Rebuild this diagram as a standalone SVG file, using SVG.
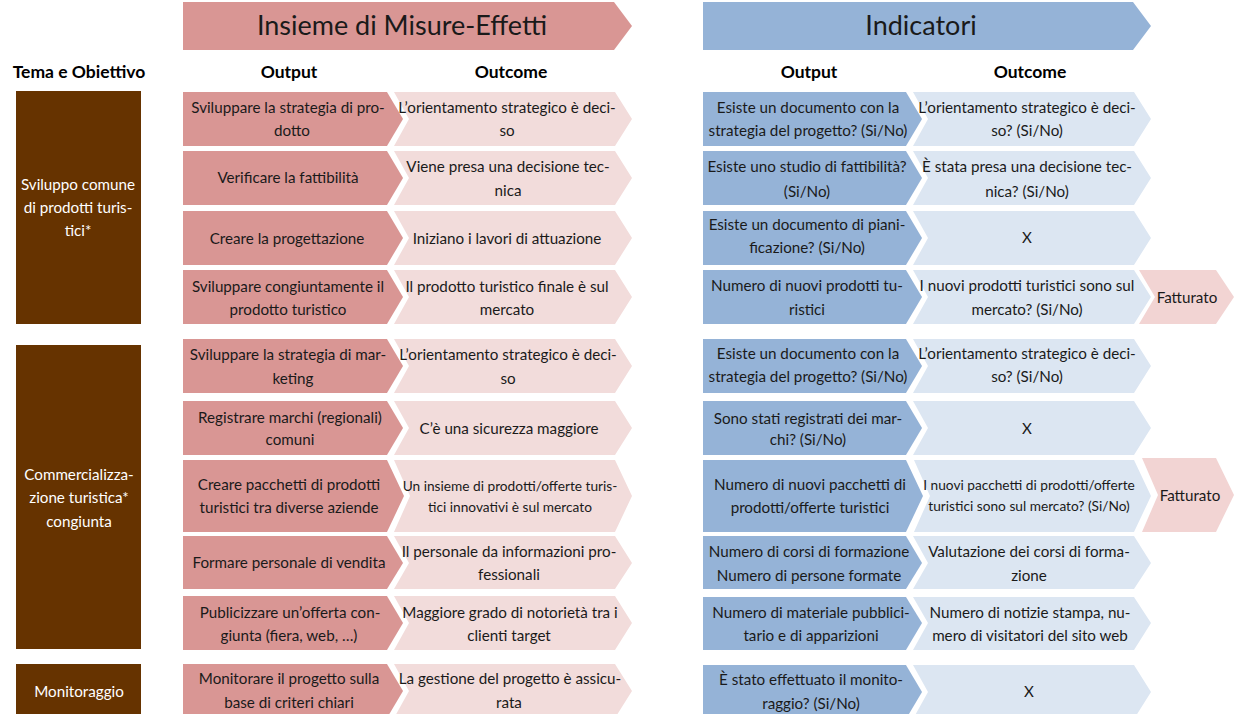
<svg xmlns="http://www.w3.org/2000/svg" width="1234" height="714" viewBox="0 0 1234 714">
  <style>
    text { font-family: Lato, "Liberation Sans", sans-serif; font-size: 15.2px; fill: #1a1a1a; text-anchor: middle; }
    .title { font-size: 27px; }
    .colhead { font-size: 17.5px; font-weight: bold; fill: #000; }
    .theme text { fill: #ffffff; }
    .sm { font-size: 13.7px; }
    .theme rect { fill: #663300; }
    .p-out { fill: #D99694; }
    .p-res { fill: #F2DCDB; }
    .b-out { fill: #95B3D7; }
    .b-res { fill: #DCE6F2; }
    .fat { fill: #F2D4D3; }
  </style>

  <!-- section banners -->
  <g id="banner-misure">
    <path class="p-out" d="M183,2 H614 L632,26 L614,50 H183 Z"/>
    <text class="title" x="402" y="35">Insieme di Misure-Effetti</text>
  </g>
  <g id="banner-indicatori">
    <path class="b-out" d="M703,2 H1133 L1151,26 L1133,50 H703 Z"/>
    <text class="title" x="921" y="35">Indicatori</text>
  </g>

  <!-- column headings -->
  <g id="headings">
    <text class="colhead" x="79" y="78">Tema e Obiettivo</text>
    <text class="colhead" x="289" y="78">Output</text>
    <text class="colhead" x="511" y="78">Outcome</text>
    <text class="colhead" x="809" y="78">Output</text>
    <text class="colhead" x="1030" y="78">Outcome</text>
  </g>

  <!-- themes -->
  <g id="theme-sviluppo" class="theme">
    <rect x="16" y="91" width="125" height="233"/>
    <text x="78" y="190">Sviluppo comune</text>
    <text x="78" y="213">di prodotti turis-</text>
    <text x="78" y="236">tici*</text>
  </g>
  <g id="theme-commercializzazione" class="theme">
    <rect x="16" y="345" width="125" height="304"/>
    <text x="79" y="480">Commercializza-</text>
    <text x="79" y="503">zione turistica*</text>
    <text x="79" y="527">congiunta</text>
  </g>
  <g id="theme-monitoraggio" class="theme">
    <rect x="16" y="664" width="125" height="60"/>
    <text x="79" y="697">Monitoraggio</text>
  </g>

  <!-- row 1 -->
  <g id="r1-output">
    <path class="p-out" d="M183,92 H387 L403,119 L387,146 H183 Z"/>
    <text x="288" y="113">Sviluppare la strategia di pro-</text>
    <text x="292" y="136">dotto</text>
  </g>
  <g id="r1-outcome">
    <path class="p-res" d="M394,92 H615 L632,119 L615,146 H394 L409,119 Z"/>
    <text x="507" y="113">L’orientamento strategico è deci-</text>
    <text x="507" y="136">so</text>
  </g>
  <g id="r1-ind-output">
    <path class="b-out" d="M703,92 H906 L922,119 L906,146 H703 Z"/>
    <text x="808" y="113">Esiste un documento con la</text>
    <text x="808" y="136">strategia del progetto? (Si/No)</text>
  </g>
  <g id="r1-ind-outcome">
    <path class="b-res" d="M913,92 H1134 L1151,119 L1134,146 H913 L928,119 Z"/>
    <text x="1027" y="113">L’orientamento strategico è deci-</text>
    <text x="1027" y="136">so? (Si/No)</text>
  </g>

  <!-- row 2 -->
  <g id="r2-output">
    <path class="p-out" d="M183,151 H387 L403,178 L387,205 H183 Z"/>
    <text x="288" y="183">Verificare la fattibilità</text>
  </g>
  <g id="r2-outcome">
    <path class="p-res" d="M394,151 H615 L632,178 L615,205 H394 L409,178 Z"/>
    <text x="508" y="172">Viene presa una decisione tec-</text>
    <text x="508" y="196">nica</text>
  </g>
  <g id="r2-ind-output">
    <path class="b-out" d="M703,151 H906 L922,178 L906,205 H703 Z"/>
    <text x="807" y="172">Esiste uno studio di fattibilità?</text>
    <text x="807" y="197">(Si/No)</text>
  </g>
  <g id="r2-ind-outcome">
    <path class="b-res" d="M913,151 H1134 L1151,178 L1134,205 H913 L928,178 Z"/>
    <text x="1027" y="172">È stata presa una decisione tec-</text>
    <text x="1027" y="197">nica? (Si/No)</text>
  </g>

  <!-- row 3 -->
  <g id="r3-output">
    <path class="p-out" d="M183,211 H387 L403,238 L387,265 H183 Z"/>
    <text x="287" y="244">Creare la progettazione</text>
  </g>
  <g id="r3-outcome">
    <path class="p-res" d="M394,211 H615 L632,238 L615,265 H394 L409,238 Z"/>
    <text x="507" y="244">Iniziano i lavori di attuazione</text>
  </g>
  <g id="r3-ind-output">
    <path class="b-out" d="M703,211 H906 L922,238 L906,265 H703 Z"/>
    <text x="807" y="230">Esiste un documento di piani-</text>
    <text x="807" y="253">ficazione? (Si/No)</text>
  </g>
  <g id="r3-ind-outcome">
    <path class="b-res" d="M913,211 H1134 L1151,238 L1134,265 H913 L928,238 Z"/>
    <text x="1027" y="243">X</text>
  </g>

  <!-- row 4 -->
  <g id="r4-output">
    <path class="p-out" d="M183,270 H387 L403,297 L387,324 H183 Z"/>
    <text x="288" y="292">Sviluppare congiuntamente il</text>
    <text x="288" y="315">prodotto turistico</text>
  </g>
  <g id="r4-outcome">
    <path class="p-res" d="M394,270 H615 L632,297 L615,324 H394 L409,297 Z"/>
    <text x="507" y="292">Il prodotto turistico finale è sul</text>
    <text x="507" y="315">mercato</text>
  </g>
  <g id="r4-ind-output">
    <path class="b-out" d="M703,270 H906 L922,297 L906,324 H703 Z"/>
    <text x="807" y="291">Numero di nuovi prodotti tu-</text>
    <text x="807" y="315">ristici</text>
  </g>
  <g id="r4-ind-outcome">
    <path class="b-res" d="M913,270 H1134 L1151,297 L1134,324 H913 L928,297 Z"/>
    <text x="1027" y="291">I nuovi prodotti turistici sono sul</text>
    <text x="1027" y="315">mercato? (Si/No)</text>
  </g>
  <g id="r4-fatturato">
    <path class="fat" d="M1139,270 H1216 L1234,297 L1216,324 H1139 L1155,297 Z"/>
    <text x="1187" y="303">Fatturato</text>
  </g>

  <!-- row 5 -->
  <g id="r5-output">
    <path class="p-out" d="M183,339 H387 L403,366 L387,393 H183 Z"/>
    <text x="288" y="360">Sviluppare la strategia di mar-</text>
    <text x="293" y="384">keting</text>
  </g>
  <g id="r5-outcome">
    <path class="p-res" d="M394,339 H615 L632,366 L615,393 H394 L409,366 Z"/>
    <text x="508" y="360">L’orientamento strategico è deci-</text>
    <text x="508" y="384">so</text>
  </g>
  <g id="r5-ind-output">
    <path class="b-out" d="M703,339 H906 L922,366 L906,393 H703 Z"/>
    <text x="808" y="359">Esiste un documento con la</text>
    <text x="808" y="382">strategia del progetto? (Si/No)</text>
  </g>
  <g id="r5-ind-outcome">
    <path class="b-res" d="M913,339 H1134 L1151,366 L1134,393 H913 L928,366 Z"/>
    <text x="1027" y="359">L’orientamento strategico è deci-</text>
    <text x="1027" y="382">so? (Si/No)</text>
  </g>

  <!-- row 6 -->
  <g id="r6-output">
    <path class="p-out" d="M183,401 H387 L403,428 L387,455 H183 Z"/>
    <text x="290" y="423">Registrare marchi (regionali)</text>
    <text x="290" y="445">comuni</text>
  </g>
  <g id="r6-outcome">
    <path class="p-res" d="M394,401 H615 L632,428 L615,455 H394 L409,428 Z"/>
    <text x="509" y="434">C’è una sicurezza maggiore</text>
  </g>
  <g id="r6-ind-output">
    <path class="b-out" d="M703,401 H906 L922,428 L906,455 H703 Z"/>
    <text x="808" y="424">Sono stati registrati dei mar-</text>
    <text x="808" y="445">chi? (Si/No)</text>
  </g>
  <g id="r6-ind-outcome">
    <path class="b-res" d="M913,401 H1134 L1151,428 L1134,455 H913 L928,428 Z"/>
    <text x="1027" y="434">X</text>
  </g>

  <!-- row 7 -->
  <g id="r7-output">
    <path class="p-out" d="M183,460 H387 L404,496 L387,532 H183 Z"/>
    <text x="289" y="490">Creare pacchetti di prodotti</text>
    <text x="289" y="513">turistici tra diverse aziende</text>
  </g>
  <g id="r7-outcome">
    <path class="p-res" d="M394,460 H615 L632,496 L615,532 H394 L410,496 Z"/>
    <text class="sm" x="510" y="491">Un insieme di prodotti/offerte turis-</text>
    <text class="sm" x="510" y="512">tici innovativi è sul mercato</text>
  </g>
  <g id="r7-ind-output">
    <path class="b-out" d="M703,460 H906 L923,496 L906,532 H703 Z"/>
    <text x="810" y="490">Numero di nuovi pacchetti di</text>
    <text x="810" y="513">prodotti/offerte turistici</text>
  </g>
  <g id="r7-ind-outcome">
    <path class="b-res" d="M914,460 H1134 L1151,496 L1134,532 H914 L930,496 Z"/>
    <text class="sm" x="1029" y="490">I nuovi pacchetti di prodotti/offerte</text>
    <text class="sm" x="1029" y="511">turistici sono sul mercato? (Si/No)</text>
  </g>
  <g id="r7-fatturato">
    <path class="fat" d="M1142,458 H1216 L1234,495 L1216,532 H1142 L1158,495 Z"/>
    <text x="1190" y="501">Fatturato</text>
  </g>

  <!-- row 8 -->
  <g id="r8-output">
    <path class="p-out" d="M183,536 H387 L403,563 L387,589 H183 Z"/>
    <text x="289" y="568">Formare personale di vendita</text>
  </g>
  <g id="r8-outcome">
    <path class="p-res" d="M394,536 H615 L632,563 L615,589 H394 L409,563 Z"/>
    <text x="509" y="557">Il personale da informazioni pro-</text>
    <text x="509" y="580">fessionali</text>
  </g>
  <g id="r8-ind-output">
    <path class="b-out" d="M703,536 H906 L922,563 L906,589 H703 Z"/>
    <text x="809" y="557">Numero di corsi di formazione</text>
    <text x="809" y="581">Numero di persone formate</text>
  </g>
  <g id="r8-ind-outcome">
    <path class="b-res" d="M913,536 H1134 L1151,563 L1134,589 H913 L928,563 Z"/>
    <text x="1029" y="557">Valutazione dei corsi di forma-</text>
    <text x="1029" y="581">zione</text>
  </g>

  <!-- row 9 -->
  <g id="r9-output">
    <path class="p-out" d="M183,596 H387 L403,623 L387,650 H183 Z"/>
    <text x="290" y="618">Publicizzare un’offerta con-</text>
    <text x="289" y="641">giunta (fiera, web, …)</text>
  </g>
  <g id="r9-outcome">
    <path class="p-res" d="M394,596 H615 L632,623 L615,650 H394 L409,623 Z"/>
    <text x="510" y="618">Maggiore grado di notorietà tra i</text>
    <text x="509" y="641">clienti target</text>
  </g>
  <g id="r9-ind-output">
    <path class="b-out" d="M703,597 H906 L922,623 L906,650 H703 Z"/>
    <text x="811" y="618">Numero di materiale pubblici-</text>
    <text x="811" y="641">tario e di apparizioni</text>
  </g>
  <g id="r9-ind-outcome">
    <path class="b-res" d="M913,597 H1134 L1151,623 L1134,650 H913 L928,623 Z"/>
    <text x="1030" y="618">Numero di notizie stampa, nu-</text>
    <text x="1030" y="641">mero di visitatori del sito web</text>
  </g>

  <!-- row 10 -->
  <g id="r10-output">
    <path class="p-out" d="M183,664 H387 L403,691 L387,718 H183 Z"/>
    <text x="289" y="684">Monitorare il progetto sulla</text>
    <text x="289" y="708">base di criteri chiari</text>
  </g>
  <g id="r10-outcome">
    <path class="p-res" d="M394,664 H615 L632,691 L615,718 H394 L409,691 Z"/>
    <text x="510" y="684">La gestione del progetto è assicu-</text>
    <text x="509" y="708">rata</text>
  </g>
  <g id="r10-ind-output">
    <path class="b-out" d="M703,665 H906 L922,692 L906,719 H703 Z"/>
    <text x="811" y="685">È stato effettuato il monito-</text>
    <text x="811" y="709">raggio? (Si/No)</text>
  </g>
  <g id="r10-ind-outcome">
    <path class="b-res" d="M913,665 H1134 L1151,692 L1134,719 H913 L928,692 Z"/>
    <text x="1029" y="697">X</text>
  </g>

  <!-- flow connectors: none drawn, the chevrons abut directly -->
  <g id="connectors"/>
</svg>
